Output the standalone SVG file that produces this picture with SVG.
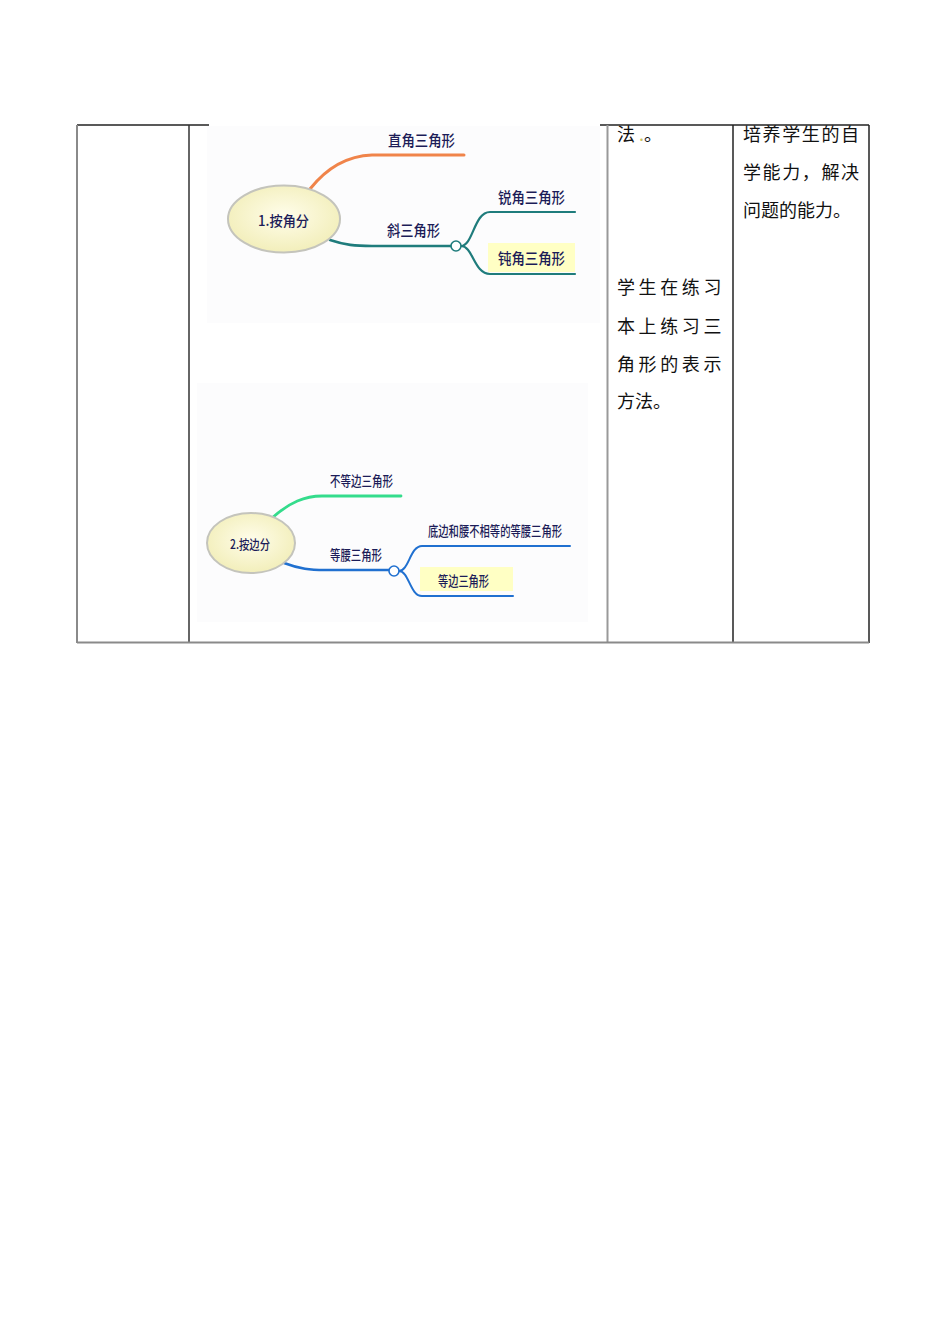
<svg xmlns="http://www.w3.org/2000/svg" width="950" height="1344" viewBox="0 0 950 1344">
<defs>
<radialGradient id="eg" cx="0.5" cy="0.45" r="0.6">
<stop offset="0" stop-color="#fffdea"/>
<stop offset="1" stop-color="#f1edb6"/>
</radialGradient>
<style>
.mm{font-family:"Noto Sans CJK SC","Liberation Sans",sans-serif;fill:#1c1c58;font-weight:500;}
.cell{font-family:"Noto Sans CJK SC","Liberation Serif",serif;fill:#111;font-size:18px;}
.br{fill:none;stroke-linecap:round;}
.node{fill:url(#eg);stroke:#c4c4bc;stroke-width:2;}
.hl{fill:#ffffc4;}
.knot{fill:#fff;stroke-width:1.6;}
.bg{fill:#fcfcfd;}
</style>
</defs>
<rect width="950" height="1344" fill="#fff"/>
<rect class="bg" x="207" y="126" width="393" height="197"/>
<rect class="bg" x="197" y="383" width="391" height="239"/>
<g id="table" stroke-width="1.5">
<line x1="77" y1="125" x2="209" y2="125" stroke="#222"/>
<line x1="600" y1="125" x2="869" y2="125" stroke="#222"/>
<line x1="77" y1="125" x2="77" y2="643" stroke="#8a8a8a" stroke-width="2"/>
<line x1="189" y1="125" x2="189" y2="643" stroke="#333"/>
<line x1="607.5" y1="125" x2="607.5" y2="643" stroke="#999" stroke-width="2"/>
<line x1="733" y1="125" x2="733" y2="643" stroke="#222"/>
<line x1="869" y1="125" x2="869" y2="643" stroke="#222"/>
<line x1="77" y1="642.5" x2="869" y2="642.5" stroke="#8a8a8a" stroke-width="2"/>
</g>
<g id="connectors">
<path class="br" d="M310,189 C325,170 345,156 372,155 L464,155" stroke="#f0844a" stroke-width="3"/>
<path class="br" d="M330,240 C345,245 355,246 372,246 L451,246" stroke="#1f7c7c" stroke-width="2.6"/>
<path class="br" d="M461,246 C473,246 474,212 490,212 L575,212" stroke="#1f7c7c" stroke-width="2.2"/>
<path class="br" d="M461,246 C473,246 474,274 490,274 L575,274" stroke="#1f7c7c" stroke-width="2.2"/>
<path class="br" d="M272,518 C290,502 305,496 322,496 L401,496" stroke="#34dc8c" stroke-width="2.8"/>
<path class="br" d="M284,563 C300,569 310,570 325,570 L389,570" stroke="#2070d0" stroke-width="2.6"/>
<path class="br" d="M399,571 C409,571 410,546 422,546 L570,546" stroke="#2070d0" stroke-width="2"/>
<path class="br" d="M399,571 C409,571 410,596 422,596 L513,596" stroke="#2070d0" stroke-width="2"/>
<circle class="knot" cx="456" cy="246" r="5" stroke="#1f7c7c"/>
<circle class="knot" cx="394" cy="571" r="5" stroke="#2070d0"/>
</g>
<g id="n1">
<ellipse class="node" cx="284" cy="219" rx="56" ry="33.5"/>
<text class="mm" x="258" y="226" font-size="14" textLength="51" lengthAdjust="spacingAndGlyphs">1.按角分</text>
</g>
<g id="n1a"><text class="mm" x="388" y="146" font-size="15" textLength="67" lengthAdjust="spacingAndGlyphs">直角三角形</text></g>
<g id="n1b"><text class="mm" x="387" y="236" font-size="15" textLength="53" lengthAdjust="spacingAndGlyphs">斜三角形</text></g>
<g id="n1b1"><text class="mm" x="498" y="203" font-size="15" textLength="67" lengthAdjust="spacingAndGlyphs">锐角三角形</text></g>
<g id="n1b2">
<rect class="hl" x="488" y="243" width="87" height="29"/>
<text class="mm" x="498" y="264" font-size="15" textLength="67" lengthAdjust="spacingAndGlyphs">钝角三角形</text>
</g>
<g id="n2">
<ellipse class="node" cx="251" cy="543" rx="44" ry="30"/>
<text class="mm" x="230" y="549" font-size="13" textLength="40" lengthAdjust="spacingAndGlyphs">2.按边分</text>
</g>
<g id="n2a"><text class="mm" x="330" y="486" font-size="13.5" textLength="63" lengthAdjust="spacingAndGlyphs">不等边三角形</text></g>
<g id="n2b"><text class="mm" x="330" y="560" font-size="13.5" textLength="52" lengthAdjust="spacingAndGlyphs">等腰三角形</text></g>
<g id="n2b1"><text class="mm" x="428" y="536" font-size="13.5" textLength="134" lengthAdjust="spacingAndGlyphs">底边和腰不相等的等腰三角形</text></g>
<g id="n2b2">
<rect class="hl" x="420" y="567" width="93" height="24"/>
<text class="mm" x="438" y="586" font-size="13.5" textLength="51" lengthAdjust="spacingAndGlyphs">等边三角形</text>
</g>
<g id="col3">
<text class="cell" x="617" y="141">法 <tspan fill="#c8c060">.</tspan>。</text>
<text class="cell" x="617" y="294" letter-spacing="3.6">学生在练习</text>
<text class="cell" x="617" y="333" letter-spacing="3.6">本上练习三</text>
<text class="cell" x="617" y="371" letter-spacing="3.6">角形的表示</text>
<text class="cell" x="617" y="408">方法。</text>
</g>
<g id="col4">
<text class="cell" x="743" y="141" letter-spacing="1.6">培养学生的自</text>
<text class="cell" x="743" y="179" letter-spacing="1.6">学能力，解决</text>
<text class="cell" x="743" y="217">问题的能力。</text>
</g>
</svg>
